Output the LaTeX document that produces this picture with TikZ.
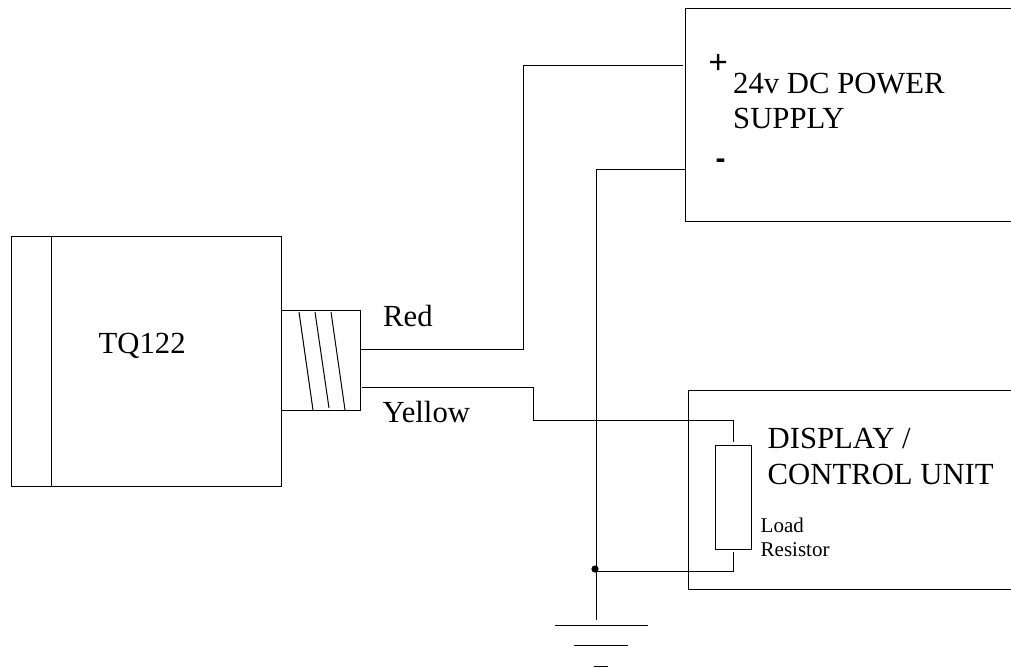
\documentclass[tikz,border=0pt]{standalone}
\usepackage{fontspec}
\setmainfont{Liberation Serif}
\newfontfamily\signfont{Liberation Sans}
\begin{document}
\begin{tikzpicture}[x=1pt,y=-1pt,
  wire/.style={draw=black,line width=1pt,line cap=butt},
  lbl/.style={anchor=base west,inner sep=0pt,font=\fontsize{30.7}{30.7}\selectfont},
  small/.style={anchor=base west,inner sep=0pt,font=\fontsize{21}{21}\selectfont}]
\useasboundingbox (0,0) rectangle (1011,668);
% sensor body
\node[draw,line width=1pt,minimum width=270pt,minimum height=250pt,inner sep=0pt,anchor=north west] (body) at (11,236) {};
\coordinate (capT) at (51.5,236);
\coordinate (capB) at (51.5,486);
\draw[wire] (capT) -- (capB);
\node[lbl] (tq) at (98.5,353) {TQ122};
% cable gland
\node[draw,line width=1pt,minimum width=79pt,minimum height=100pt,inner sep=0pt,anchor=north west] (gland) at (281,310) {};
\coordinate (h1a) at (299,312); \coordinate (h1b) at (313,410);
\coordinate (h2a) at (315,312); \coordinate (h2b) at (329,408);
\coordinate (h3a) at (331,312); \coordinate (h3b) at (345,410);
\draw[wire] (h1a) -- (h1b);
\draw[wire] (h2a) -- (h2b);
\draw[wire] (h3a) -- (h3b);
\node[lbl] (red) at (383,326) {Red};
\node[lbl] (yellow) at (382.5,422) {Yellow};
% power supply
\coordinate (psTR) at (1011,9);
\coordinate (psTL) at (685,9);
\coordinate (psBL) at (685,222);
\coordinate (psBR) at (1011,222);
\draw[wire] (psTR) -- (psTL) -- (psBL) -- (psBR);
\node[lbl] (psu1) at (733,94) {24v DC POWER};
\node[lbl] (psu2) at (733,128.5) {SUPPLY};
\node[anchor=base west,inner sep=0pt,font=\signfont\fontsize{33}{33}\selectfont] (plus) at (708.5,74) {+};
\node[anchor=base west,inner sep=0pt,font=\signfont\bfseries\fontsize{30}{30}\selectfont] (minus) at (715.5,169) {-};
% display
\coordinate (dTR) at (1011,390);
\coordinate (dTL) at (688,390);
\coordinate (dBL) at (688,589.5);
\coordinate (dBR) at (1011,589.5);
\draw[wire] (dTR) -- (dTL) -- (dBL) -- (dBR);
\node[lbl] (d1) at (767.5,448) {DISPLAY /};
\node[lbl] (d2) at (767.5,484) {CONTROL UNIT};
\node[draw,line width=1pt,minimum width=36pt,minimum height=104pt,inner sep=0pt,anchor=north west] (res) at (715,445) {};
\node[small] (load1) at (760.5,532) {Load};
\node[small] (load2) at (760.5,556.5) {Resistor};
% wires
\coordinate (redS) at (360,349);
\coordinate (redE) at (683,66);
\draw[wire] (redS) -- (523,349) -- (523,66) -- (redE);
\coordinate (yelS) at (362,387);
\coordinate (yelE) at (733,442);
\draw[wire] (yelS) -- (533,387) -- (533,420) -- (733,420) -- (yelE);
\coordinate (gndTop) at (596,170);
\coordinate (psMinus) at (685,170);
\coordinate (gndEnd) at (596,620);
\draw[wire] (psMinus) -- (gndTop) -- (gndEnd);
\coordinate (resS) at (733,552);
\coordinate (junc) at (595,571.5);
\draw[wire] (resS) -- (733,571.5) -- (junc);
\fill (595,569) circle (3.6pt);
% ground symbol
\coordinate (g1a) at (555,625); \coordinate (g1b) at (648,625);
\coordinate (g2a) at (574,645); \coordinate (g2b) at (628,645);
\coordinate (g3a) at (594,666.5); \coordinate (g3b) at (608,666.5);
\draw[wire] (g1a) -- (g1b);
\draw[wire] (g2a) -- (g2b);
\draw[wire] (g3a) -- (g3b);
\end{tikzpicture}
\end{document}
